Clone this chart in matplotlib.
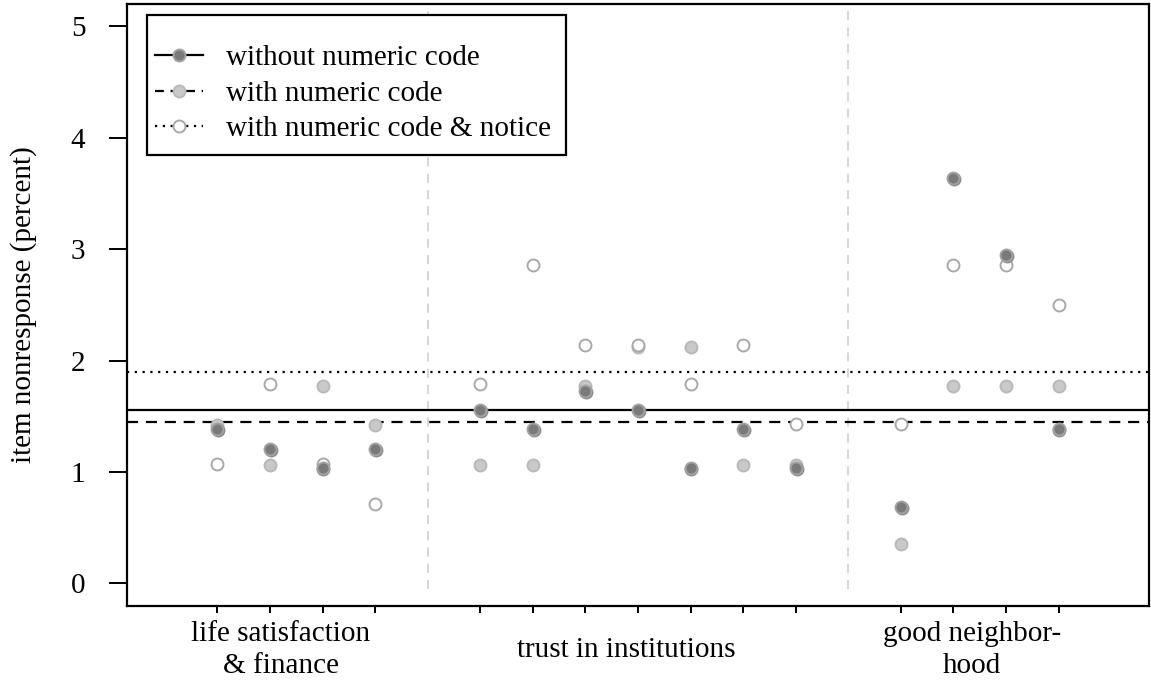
import matplotlib
matplotlib.use("Agg")
import matplotlib.pyplot as plt
from matplotlib.lines import Line2D
from matplotlib.patches import Rectangle

plt.rcParams['font.family'] = ['Liberation Serif', 'DejaVu Serif']

# item positions (gaps at 5 and 13 separate the three blocks)
positions = [1, 2, 3, 4, 6, 7, 8, 9, 10, 11, 12, 14, 15, 16, 17]
separators = [5, 13]

# item nonresponse in percent, per condition
without_code = [1.39, 1.21, 1.04, 1.21, 1.56, 1.39, 1.73, 1.56, 1.04, 1.39, 1.04,
                0.69, 3.64, 2.95, 1.39]
with_code = [1.42, 1.06, 1.77, 1.42, 1.06, 1.06, 1.77, 2.12, 2.12, 1.06, 1.06,
             0.35, 1.77, 1.77, 1.77]
with_notice = [1.07, 1.79, 1.07, 0.71, 1.79, 2.86, 2.14, 2.14, 1.79, 2.14, 1.43,
               1.43, 2.86, 2.86, 2.50]

# overall means per condition
mean_without = 1.555
mean_with = 1.45
mean_notice = 1.895

group_labels = ["life satisfaction\n& finance", "trust in institutions", "good neighbor-\nhood"]
group_label_x = [2.2, 8.77, 15.35]

legend_labels = ["without numeric code", "with numeric code", "with numeric code & notice"]

W, H = 1151, 681
fig = plt.figure(figsize=(W / 100, H / 100), dpi=100)
ax = fig.add_axes([127 / W, 1 - 605.7 / H, (1149 - 127) / W, (605.7 - 4) / H])

dark_face, dark_edge = '#7a7a7a', '#a2a2a2'
light_face, light_edge = '#c9c9c9', '#b9b9b9'
open_edge = '#a9a9a9'
ms, mew = 8.6, 1.4

# separators between blocks
for s in separators:
    ax.plot([s, s], [-0.05, 5.3], color='#d3d3d3', lw=1.3, ls=(0, (5, 4)), zorder=1)

# mean lines
ax.axhline(mean_without, color='black', lw=1.6, ls='-', zorder=2)
ax.axhline(mean_with, color='black', lw=1.6, ls=(0, (5, 3.5)), zorder=2)
ax.axhline(mean_notice, color='black', lw=1.6, ls=(0, (1, 2.5)), zorder=2)

# points: light grey first, then open, then dark on top
ax.plot(positions, with_code, ls='none', marker='o', ms=ms, mew=mew,
        mfc=light_face, mec=light_edge, zorder=3)
ax.plot(positions, with_notice, ls='none', marker='o', ms=ms, mew=mew,
        mfc='white', mec=open_edge, zorder=4)
ax.plot([p + 0.015 for p in positions], [v - 0.01 for v in without_code], ls='none',
        marker='o', ms=ms, mew=mew, mfc='#8a8a8a', mec='#8a8a8a', zorder=5)
ax.plot(positions, without_code, ls='none', marker='o', ms=ms, mew=mew,
        mfc=dark_face, mec=dark_edge, zorder=6)

ax.set_xlim(-0.72, 18.72)
ax.set_ylim(-0.2, 5.2)

ax.set_xticks(positions)
ax.set_xticklabels([])
ax.tick_params(axis='x', length=5, width=1.4, direction='out')
ax.set_yticks([0, 1, 2, 3, 4, 5])
ax.tick_params(axis='y', length=13, width=1.4, pad=17, labelsize=21)

for sp in ax.spines.values():
    sp.set_linewidth(1.6)
    sp.set_color('black')

ax.set_ylabel("item nonresponse (percent)", fontsize=21)
ax.yaxis.set_label_coords(-0.088, 0.5)

trans = ax.get_xaxis_transform()
for lab, gx in zip(group_labels, group_label_x):
    ax.text(gx, -0.0736, lab, transform=trans, ha='center', va='center',
            multialignment='center', fontsize=21, linespacing=1.3)

handles = [
    Line2D([], [], color='black', lw=1.6, ls='-', marker='o', ms=ms, mew=mew,
           mfc=dark_face, mec=dark_edge),
    Line2D([], [], color='black', lw=1.6, ls=(0, (4, 3)), marker='o', ms=ms, mew=mew,
           mfc=light_face, mec=light_edge),
    Line2D([], [], color='black', lw=1.6, ls=(0, (1, 2.5)), marker='o', ms=ms, mew=mew,
           mfc='white', mec=open_edge),
]
leg = ax.legend(handles, legend_labels, loc='upper left',
                bbox_to_anchor=(155 / W, 1 - 45 / H), bbox_transform=fig.transFigure,
                borderaxespad=0, borderpad=0, frameon=False,
                fontsize=21, handlelength=1.65, handletextpad=0.8,
                labelspacing=0.31)
leg.set_zorder(10)

# legend box drawn separately to get the R-like padding
box = Rectangle((147 / W, 1 - 155 / H), (566 - 147) / W, (155 - 15) / H,
                transform=fig.transFigure, facecolor='white', edgecolor='black',
                lw=1.6, zorder=9)
ax.add_patch(box)
box.set_clip_on(False)

fig.savefig("out.png", dpi=100)
